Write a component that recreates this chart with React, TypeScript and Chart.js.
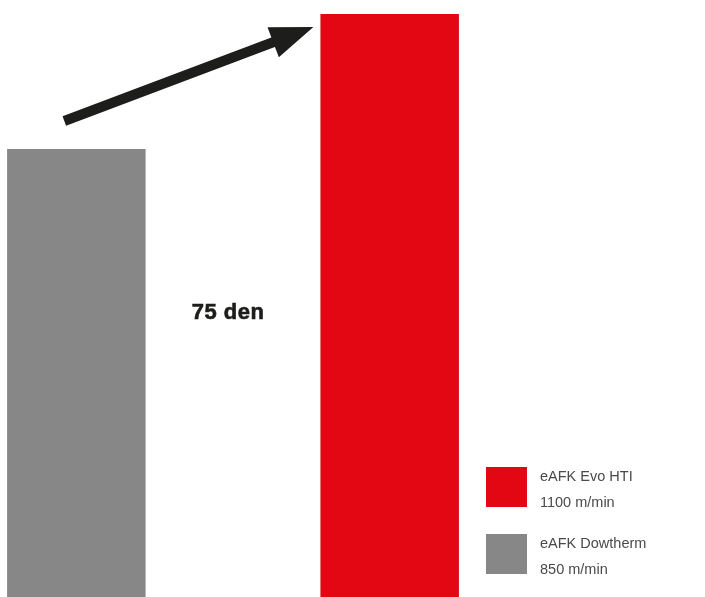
import React, { useEffect, useRef } from "react";
import { Chart, registerables } from "chart.js";

Chart.register(...registerables);

const categories = ["eAFK Dowtherm", "", "eAFK Evo HTI"];
const speeds = [850, null, 1100];
const barColors = ["#878787", "#878787", "#E30613"];
const centerLabel = "75 den";
const legendNames = ["eAFK Evo HTI", "eAFK Dowtherm"];
const legendValues = ["1100 m/min", "850 m/min"];
const legendColors = ["#E30613", "#878787"];

const overlayPlugin = {
  id: "overlay",
  afterDatasetsDraw(chart: any) {
    const ctx = chart.ctx;
    const meta = chart.getDatasetMeta(0);
    const g = meta.data[0];
    const r = meta.data[2];
    const mid = meta.data[1];
    ctx.save();
    // arrow
    const sx = g.x - 12;
    const sy = g.y - 28;
    const tx = r.x - r.width / 2 - 7;
    const ty = r.y + 13;
    const ang = Math.atan2(ty - sy, tx - sx);
    const headLen = 43;
    const headHalf = 16;
    const bx = tx - Math.cos(ang) * headLen;
    const by = ty - Math.sin(ang) * headLen;
    ctx.strokeStyle = "#1d1d1b";
    ctx.fillStyle = "#1d1d1b";
    ctx.lineWidth = 10;
    ctx.lineCap = "butt";
    ctx.beginPath();
    ctx.moveTo(sx, sy);
    ctx.lineTo(bx + Math.cos(ang) * 2, by + Math.sin(ang) * 2);
    ctx.stroke();
    ctx.beginPath();
    ctx.moveTo(tx, ty);
    ctx.lineTo(bx - Math.sin(ang) * headHalf, by + Math.cos(ang) * headHalf);
    ctx.lineTo(bx + Math.sin(ang) * headHalf, by - Math.cos(ang) * headHalf);
    ctx.closePath();
    ctx.fill();

    // center label
    const yScale = chart.scales.y;
    ctx.font = "bold 22px 'Liberation Sans', Arial, sans-serif";
    try {
      (ctx as any).letterSpacing = "0.5px";
    } catch (e) {}
    ctx.textAlign = "center";
    ctx.textBaseline = "alphabetic";
    ctx.fillStyle = "#1d1d1b";
    ctx.lineWidth = 0.6;
    ctx.strokeStyle = "#1d1d1b";
    ctx.fillText(centerLabel, mid.x - 5, yScale.getPixelForValue(535));
    ctx.strokeText(centerLabel, mid.x - 5, yScale.getPixelForValue(535));
    try {
      (ctx as any).letterSpacing = "0px";
    } catch (e) {}

    // legend
    const lx = 488;
    const ly = 467;
    const gap = 67;
    ctx.textAlign = "left";
    for (let i = 0; i < legendNames.length; i++) {
      const top = ly + i * gap;
      ctx.fillStyle = legendColors[i];
      ctx.fillRect(lx, top, 41, 40);
      ctx.fillStyle = "#4a4a4a";
      ctx.font = "14.5px 'Liberation Sans', Arial, sans-serif";
      ctx.fillText(legendNames[i], lx + 54, top + 14);
      ctx.fillText(legendValues[i], lx + 54, top + 40);
    }
    ctx.restore();
  },
};

export default function App() {
  const ref = useRef<HTMLCanvasElement>(null);
  useEffect(() => {
    const chart = new Chart(ref.current as HTMLCanvasElement, {
      type: "bar",
      data: {
        labels: categories,
        datasets: [
          {
            data: speeds as any,
            backgroundColor: barColors,
            barPercentage: 0.884,
            categoryPercentage: 1,
          },
        ],
      },
      options: {
        responsive: false,
        animation: false,
        layout: { padding: { left: 0, right: 237, top: 0, bottom: 0 } },
        plugins: { legend: { display: false }, tooltip: { enabled: false } },
        scales: {
          x: { display: false },
          y: { display: false, min: 20, max: 1126 },
        },
      },
      plugins: [overlayPlugin],
    });
    return () => chart.destroy();
  }, []);
  return (
    <div style={{ position: "absolute", left: -2, top: 0, width: 707, height: 597, background: "#fff" }}>
      <canvas ref={ref} width={707} height={597} style={{ width: 707, height: 597 }} />
    </div>
  );
}
